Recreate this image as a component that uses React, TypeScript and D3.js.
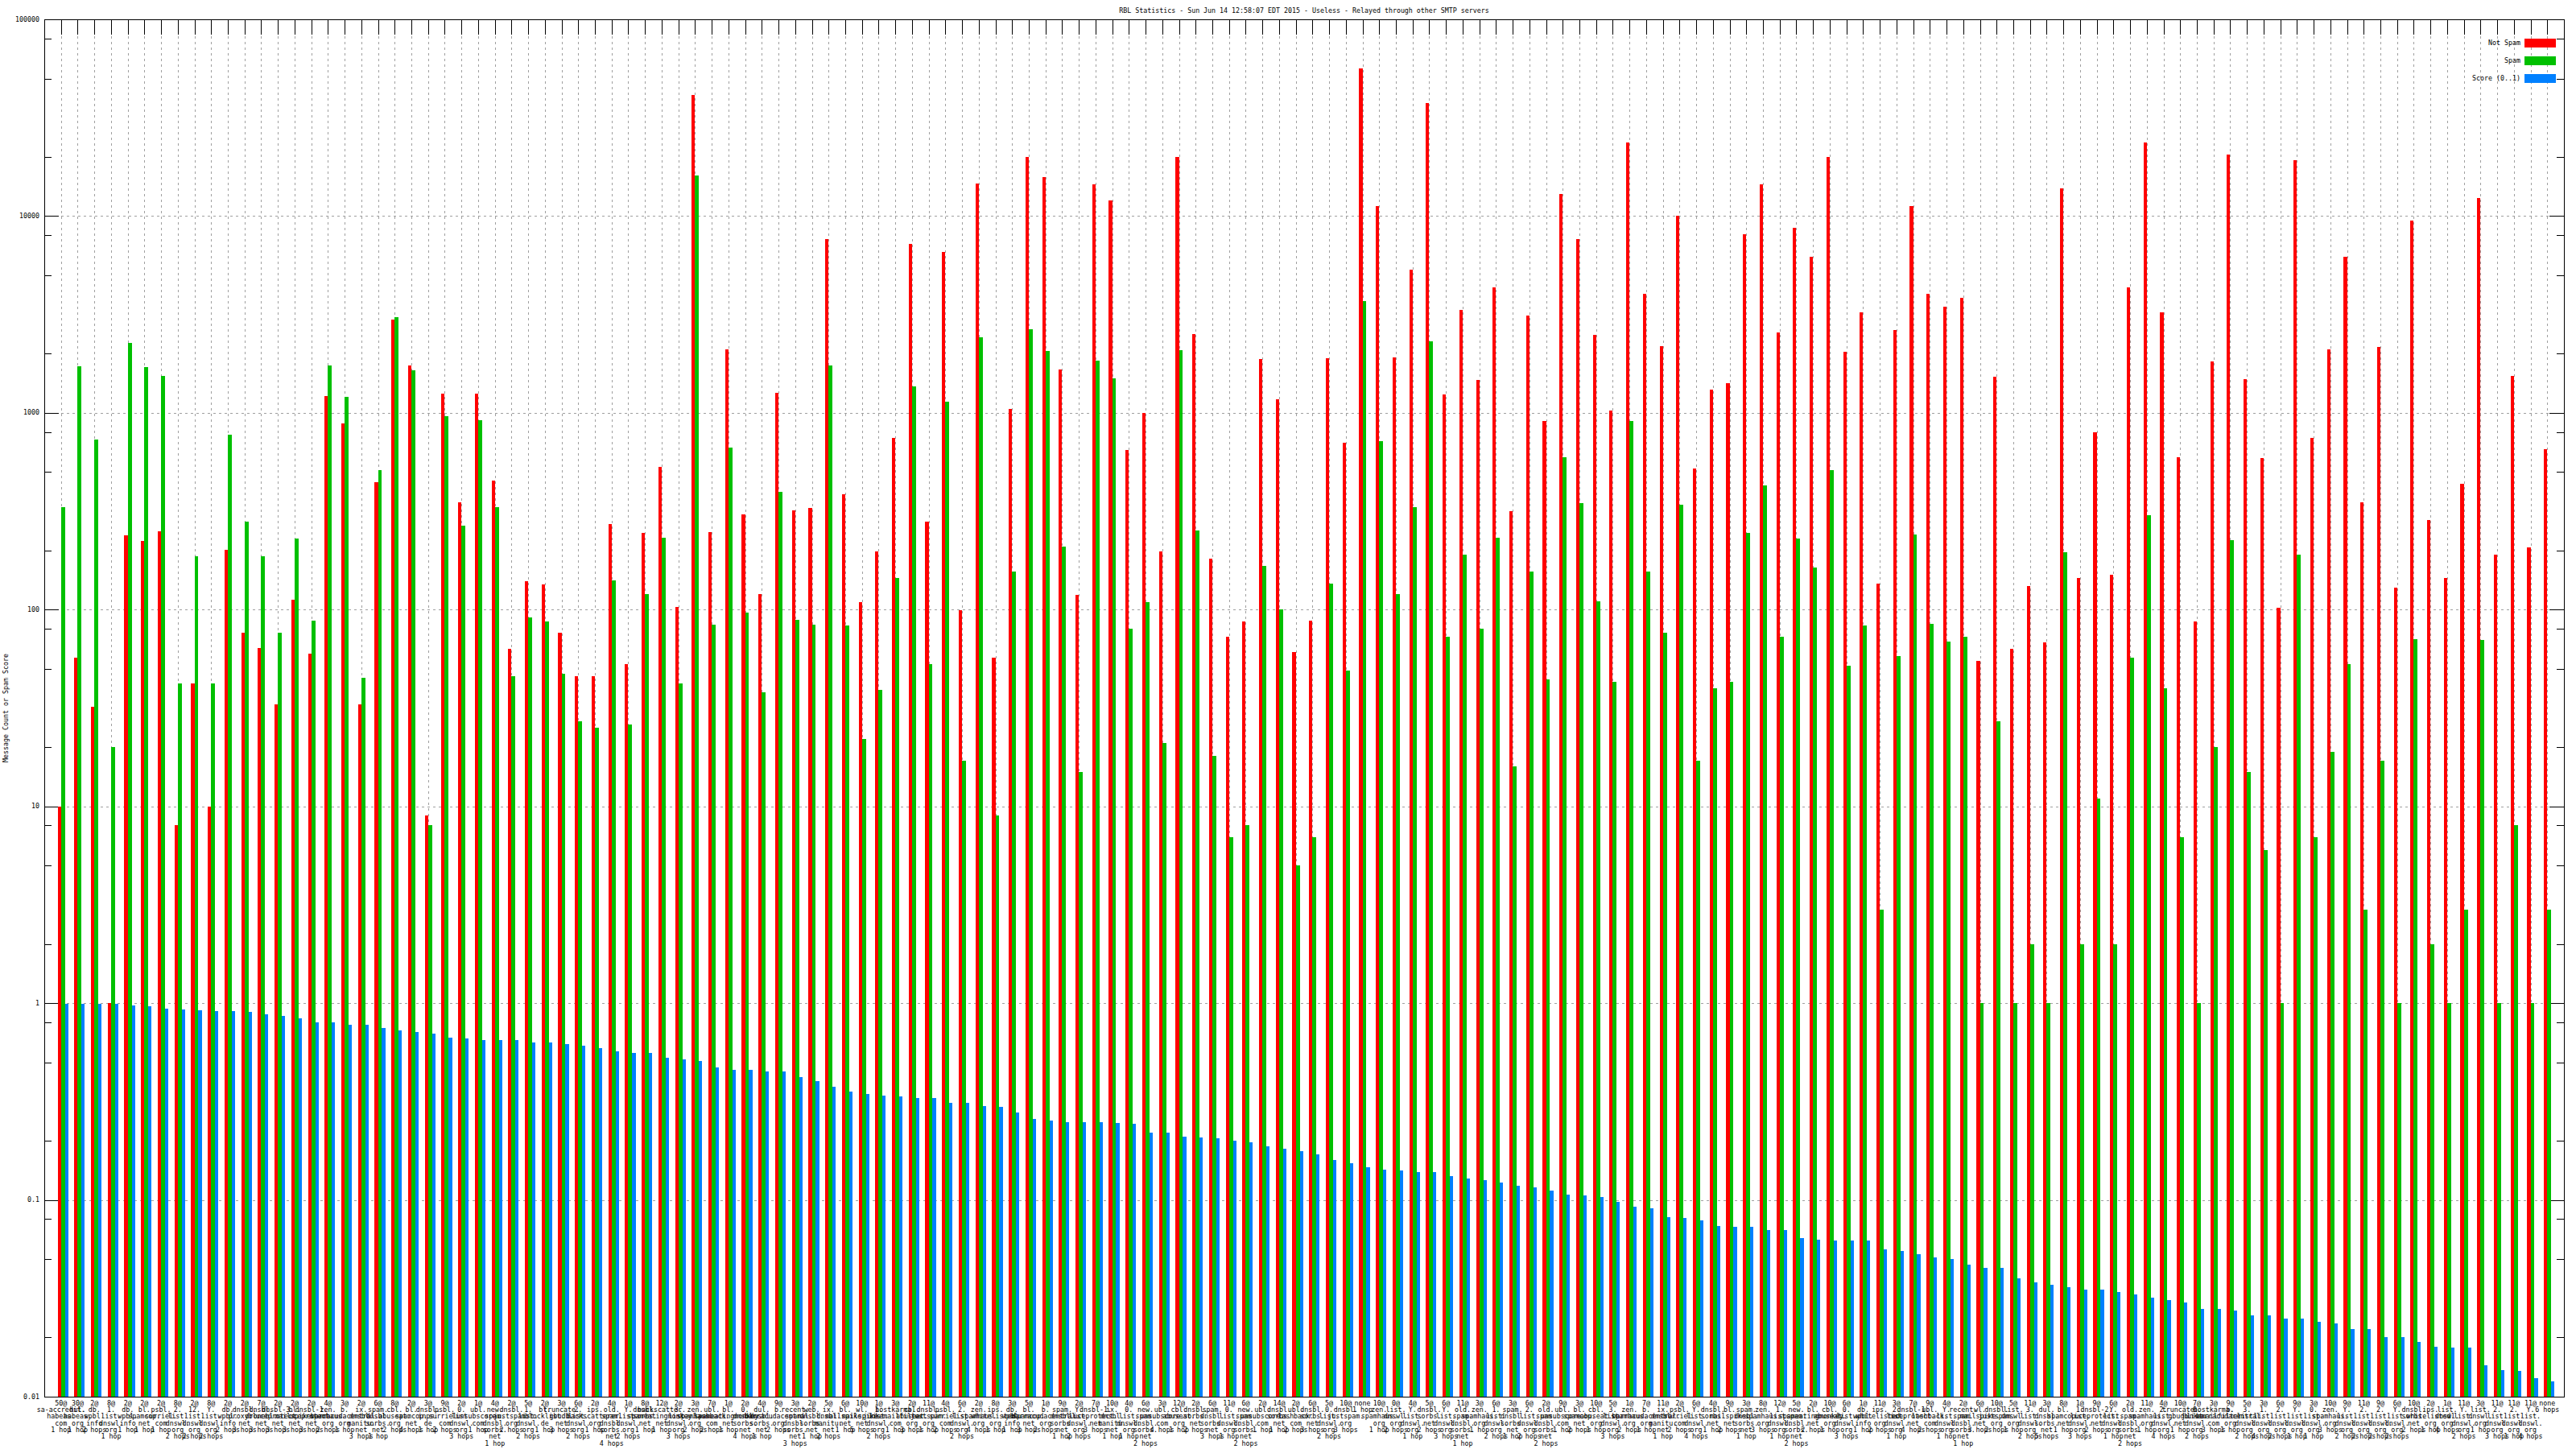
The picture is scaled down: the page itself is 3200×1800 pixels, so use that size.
import * as d3 from "d3"

// RBL statistics: per-list counts of not-spam / spam messages and a spam score (log scale)

const notSpam = [
  10, 57, 32, 1, 238, 224, 250, 8, 42, 10,
  202, 76, 64, 33, 112, 60, 1217, 883, 33, 443,
  2990, 1746, 9, 1256, 352, 1256, 452, 63, 139, 134,
  76, 46, 46, 272, 53, 245, 532, 103, 41100, 248,
  2100, 305, 120, 1268, 318, 328, 7640, 386, 109, 198,
  748, 7190, 281, 6550, 99, 14650, 57, 1042, 20000, 15750,
  1660, 119, 14500, 12050, 648, 1000, 198, 20000, 2505, 182,
  73, 87, 1880, 1167, 61, 88, 1897, 705, 56100, 11200,
  1917, 5320, 37500, 1242, 3350, 1466, 4330, 315, 3110, 912,
  12900, 7640, 2480, 1031, 23600, 4030, 2190, 10000, 521, 1308,
  1420, 8050, 14500, 2560, 8740, 6220, 20000, 2040, 3240, 135,
  2640, 11200, 4030, 3450, 3830, 55, 1528, 63, 132, 68,
  13800, 145, 797, 150, 4330, 23600, 3240, 597, 87, 1820,
  20600, 1480, 590, 102, 19150, 748, 2100, 6220, 352, 2170,
  129, 9500, 286, 145, 437, 12400, 190, 1540, 208, 655,
]

const spam = [
  331, 1730, 733, 20, 2260, 1710, 1540, 42, 186, 42,
  773, 281, 186, 76, 229, 88, 1746, 1205, 45, 511,
  3050, 1640, 8, 960, 267, 920, 331, 46, 91, 87,
  47, 27, 25, 141, 26, 120, 231, 42, 16070, 84,
  668, 97, 38, 395, 89, 84, 1746, 83, 22, 39,
  145, 1364, 53, 1143, 17, 2430, 9, 156, 2670, 2060,
  210, 15, 1840, 1500, 80, 109, 21, 2080, 253, 18,
  7, 8, 166, 100, 5, 7, 136, 49, 3710, 719,
  120, 331, 2310, 73, 190, 80, 231, 16, 156, 44,
  597, 349, 110, 43, 912, 156, 76, 342, 17, 40,
  43, 245, 429, 73, 229, 163, 511, 52, 83, 3,
  58, 240, 85, 69, 73, 1, 27, 1, 2, 1,
  195, 2, 11, 2, 57, 302, 40, 7, 1, 20,
  226, 15, 6, 1, 190, 7, 19, 53, 3, 17,
  1, 71, 2, 1, 3, 70, 1, 8, 1, 3,
]

const score = [
  0.99, 0.99, 0.99, 0.99, 0.97, 0.96, 0.94, 0.93, 0.92, 0.91,
  0.91, 0.9, 0.88, 0.86, 0.84, 0.8, 0.8, 0.78, 0.78, 0.75,
  0.73, 0.71, 0.7, 0.67, 0.66, 0.65, 0.65, 0.65, 0.63, 0.63,
  0.62, 0.61, 0.59, 0.57, 0.56, 0.56, 0.53, 0.52, 0.51, 0.47,
  0.46, 0.46, 0.45, 0.45, 0.42, 0.4, 0.375, 0.356, 0.345, 0.34,
  0.335, 0.33, 0.33, 0.31, 0.31, 0.3, 0.296, 0.278, 0.258, 0.253,
  0.248, 0.248, 0.248, 0.246, 0.243, 0.22, 0.22, 0.21, 0.208, 0.206,
  0.2, 0.196, 0.188, 0.182, 0.177, 0.171, 0.16, 0.154, 0.147, 0.142,
  0.141, 0.139, 0.138, 0.132, 0.128, 0.126, 0.122, 0.118, 0.116, 0.112,
  0.106, 0.105, 0.103, 0.098, 0.092, 0.091, 0.082, 0.081, 0.079, 0.074,
  0.073, 0.073, 0.07, 0.07, 0.064, 0.063, 0.062, 0.062, 0.062, 0.056,
  0.055, 0.053, 0.051, 0.05, 0.047, 0.045, 0.045, 0.04, 0.038, 0.037,
  0.036, 0.035, 0.035, 0.034, 0.033, 0.032, 0.031, 0.03, 0.028, 0.028,
  0.0275, 0.026, 0.026, 0.025, 0.025, 0.024, 0.0235, 0.022, 0.022, 0.02,
  0.02, 0.019, 0.018, 0.0177, 0.0177, 0.0145, 0.0137, 0.0135, 0.0124, 0.012,
]

// x tick labels: "<count>@", the list host (one line per dot), hop count
const labelCounts = (
  "50@ 30@ 2@ 8@ 2@ 2@ 2@ 8@ 2@ 8@ 2@ 2@ 7@ 2@ 2@ 2@ " +
  "4@ 3@ 2@ 6@ 8@ 2@ 3@ 9@ 2@ 1@ 4@ 2@ 5@ 2@ 3@ 6@ 2@ 4@ 1@ 8@ 12@ 2@ 3@ 7@ 1@ 2@ 4@ 9@ 3@ 2@ " +
  "5@ 6@ 10@ 1@ 3@ 2@ 11@ 4@ 6@ 2@ 8@ 3@ 5@ 1@ 9@ 2@ 7@ 10@ 4@ 6@ 3@ 12@ 2@ " +
  "6@ 11@ 6@ 2@ 14@ 2@ 6@ 5@ 10@ none 10@ 0@ 4@ 5@ 6@ 11@ 3@ 6@ 3@ 6@ 2@ " +
  "9@ 3@ 10@ 5@ 1@ 7@ 11@ 2@ 6@ 4@ 9@ 3@ 8@ 12@ 5@ 2@ 10@ 6@ 1@ 11@ 3@ 7@ 9@ 4@ 2@ 6@ 10@ 5@ 11@ 3@ " +
  "8@ 1@ 9@ 6@ 2@ 11@ 4@ 10@ 7@ 3@ 9@ 5@ " +
  "3@ 6@ 9@ 3@ 10@ 9@ 11@ 9@ 6@ 10@ 2@ 1@ 11@ 3@ 11@ 11@ 11@ none"
).split(" ")

const labelHosts = [
  "sa-accredit.habeas.com", "hul.habeas.org", "db.wpbl.info", "1.list.dnswl.org", "db.wpbl.info",
  "bl.spamcop.net", "psbl.surriel.com", "2.list.dnswl.org", "12.list.dnswl.org", "Y.list.dnswl.org",
  "db.wpbl.info", "dnsbl.proxybl.net", "dnsbl.dronebl.net", "dnsbl-3.uceprotect.net", "bl.mailspike.net",
  "dnsbl-1.uceprotect.net", "zen.spamhaus.org", "b.barracudacentral.org", "ix.dnsbl.manitu.net", "spam.dnsbl.sorbs.net",
  "cbl.abuseat.org", "bl.spamcop.net", "dnsbl.inps.de", "psbl.surriel.com", "0.list.dnswl.org",
  "ubl.unsubscore.com", "new.spam.dnsbl.sorbs.net", "dnsbl.justspam.org", "1.list.dnswl.org", "bl.blocklist.de",
  "truncate.gbudb.net", "2.list.dnswl.org", "ips.backscatterer.org", "old.spam.dnsbl.sorbs.net", "Y.list.dnswl.org",
  "dnsbl.sorbs.net", "backscatter.spameatingmonkey.net", "3.list.dnswl.org", "zen.spamhaus.org", "ubl.lashback.com",
  "bl.spameatingmonkey.net", "0.dnsbl.sorbs.net", "dul.dnsbl.sorbs.net", "b.barracudacentral.org", "recent.spam.dnsbl.sorbs.net",
  "web.dnsbl.sorbs.net", "ix.dnsbl.manitu.net", "bl.mailspike.net", "wl.mailspike.net", "1.list.dnswl.org",
  "hostkarma.junkemailfilter.com", "cbl.abuseat.org", "dnsbl.justspam.org", "psbl.surriel.com", "2.list.dnswl.org",
  "zen.spamhaus.org", "ips.whitelisted.org", "db.wpbl.info", "bl.spamcop.net", "b.barracudacentral.org",
  "spam.dnsbl.sorbs.net", "Y.list.dnswl.org", "dnsbl-1.uceprotect.net", "ix.dnsbl.manitu.net", "0.list.dnswl.org",
  "new.spam.dnsbl.sorbs.net", "ubl.unsubscore.com", "cbl.abuseat.org", "dnsbl.sorbs.net", "spam.dnsbl.sorbs.net",
  "0.list.dnswl.org", "new.spam.dnsbl.sorbs.net", "ubl.unsubscore.com", "dnsbl.sorbs.net", "ubl.lashback.com",
  "dnsbl.sorbs.net", "0.list.dnswl.org", "dnsbl.justspam.org", "", "zen.spamhaus.org",
  "list.dnswl.org", "Y.list.dnswl.org", "dnsbl.sorbs.net", "Y.list.dnswl.org", "old.spam.dnsbl.sorbs.net",
  "zen.spamhaus.org", "1.list.dnswl.org", "spam.dnsbl.sorbs.net", "2.list.dnswl.org", "old.spam.dnsbl.sorbs.net",
  "ubl.unsubscore.com", "bl.spamcop.net", "cbl.abuseat.org", "3.list.dnswl.org", "zen.spamhaus.org",
  "b.barracudacentral.org", "ix.dnsbl.manitu.net", "psbl.surriel.com", "Y.list.dnswl.org", "dnsbl.sorbs.net",
  "bl.mailspike.net", "spam.dnsbl.sorbs.net", "zen.spamhaus.org", "1.list.dnswl.org", "new.spam.dnsbl.sorbs.net",
  "bl.spameatingmonkey.net", "cbl.abuseat.org", "0.list.dnswl.org", "db.wpbl.info", "ips.whitelisted.org",
  "2.list.dnswl.org", "dnsbl-1.uceprotect.net", "ubl.lashback.com", "Y.list.dnswl.org", "recent.spam.dnsbl.sorbs.net",
  "wl.mailspike.net", "dnsbl.justspam.org", "list.dnswl.org", "3.list.dnswl.org", "dul.dnsbl.sorbs.net",
  "bl.spamcop.net", "1.list.dnswl.org", "dnsbl-2.uceprotect.net", "Y.list.dnswl.org", "old.spam.dnsbl.sorbs.net",
  "zen.spamhaus.org", "2.list.dnswl.org", "truncate.gbudb.net", "0.list.dnswl.org", "hostkarma.junkemailfilter.com",
  "b.barracudacentral.org", "3.list.dnswl.org", "1.list.dnswl.org", "2.list.dnswl.org", "Y.list.dnswl.org",
  "0.list.dnswl.org", "zen.spamhaus.org", "Y.list.dnswl.org", "2.list.dnswl.org", "2.list.dnswl.org",
  "Y.list.dnswl.org", "dnsbl.sorbs.net", "ips.whitelisted.org", "list.dnswl.org", "Y.list.dnswl.org",
  "list.dnswl.org", "2.list.dnswl.org", "2.list.dnswl.org", "Y.list.dnswl.org", "",
]

const labelHops = [
  1, 1, 2, 1, 1, 1, 1, 2, 2, 2, 2, 3, 3, 3, 3, 3,
  2, 1, 3, 1, 2, 4, 1, 2, 3, 1, 1, 2, 2, 1, 3, 2, 1, 4, 2, 1,
  1, 3, 2, 2, 1, 4, 1, 2, 3, 1, 2, 1, 5, 2, 1, 3, 1, 2, 2, 4,
  1, 1, 3, 2, 1, 2, 3, 1, 1, 2, 4, 1, 2,
  3, 1, 2, 1, 1, 2, 3, 2, 3, 1, 1, 2, 1, 2, 3, 1, 1, 2, 1, 2, 2,
  1, 2, 1, 3, 2, 1, 1, 2, 4, 1, 2, 1, 3, 1, 2, 2, 1, 3, 1, 2,
  1, 4, 2, 1, 1, 3, 2, 1, 2, 5, 1, 3, 2, 1, 2, 1, 4, 1, 2, 3, 1, 2,
  4, 2, 1, 1, 3, 2, 2, 2, 2, 2, 1, 4, 2, 1, 3, 1, 4, 6,
]

const yMajors = [0.01, 0.1, 1, 10, 100, 1000, 10000, 100000]
const yMajorLabels = ["0.01", "0.1", "1", "10", "100", "1000", "10000", "100000"]
const minorSteps = [2, 5, 8]

const seriesNames = ["Not Spam", "Spam", "Score (0..1)"]
const colors = ["#ff0000", "#00c000", "#0080ff"]

const W = 3200
const H = 1800
const font = "'DejaVu Sans Mono', monospace"
const fs = 8.3

export default function App() {
  const n = notSpam.length
  const left = 55, right = 3185, top = 24, bottom = 1735

  const x = d3.scaleLinear().domain([-1, n]).range([left, right])
  const y = d3.scaleLog().domain([0.01, 100000]).range([bottom, top])

  const idx = d3.range(n)
  const minors = yMajors.slice(0, -1).flatMap((m) => minorSteps.map((s) => m * s))

  // bar slots relative to the tick (gnuplot-ish offsets in x units)
  const slots = [
    [-0.2, 0],
    [0, 0.235],
    [0.235, 0.435],
  ]
  const series = [notSpam, spam, score]

  const hopsText = (h: number) => (h === 1 ? "1 hop" : `${h} hops`)

  return (
    <svg
      width={W}
      height={H}
      style={{ position: "absolute", left: 0, top: 0, display: "block", background: "#fff" }}
      fontFamily={font}
      fontSize={fs}
    >
      <rect width={W} height={H} fill="#fff" />

      {/* grid */}
      <g stroke="#a0a0a0" strokeWidth={1} strokeDasharray="3,4" shapeRendering="crispEdges">
        {idx.map((i) => (
          <line key={"gx" + i} x1={Math.round(x(i)) + 0.5} x2={Math.round(x(i)) + 0.5} y1={top} y2={bottom} />
        ))}
        {yMajors.slice(1, -1).map((v) => (
          <line key={"gy" + v} x1={left} x2={right} y1={Math.round(y(v)) + 0.5} y2={Math.round(y(v)) + 0.5} />
        ))}
      </g>

      {/* ticks */}
      <g stroke="#000" strokeWidth={1} shapeRendering="crispEdges">
        {yMajors.map((v) => {
          const yy = Math.round(y(v)) + 0.5
          return (
            <g key={"ym" + v}>
              <line x1={left} x2={left + 18} y1={yy} y2={yy} />
              <line x1={right} x2={right - 18} y1={yy} y2={yy} />
            </g>
          )
        })}
        {minors.map((v) => {
          const yy = Math.round(y(v)) + 0.5
          return (
            <g key={"yn" + v}>
              <line x1={left} x2={left + 9} y1={yy} y2={yy} />
              <line x1={right} x2={right - 9} y1={yy} y2={yy} />
            </g>
          )
        })}
        {idx.map((i) => {
          const xx = Math.round(x(i)) + 0.5
          return (
            <g key={"xt" + i}>
              <line x1={xx} x2={xx} y1={top} y2={top + 19} />
              <line x1={xx} x2={xx} y1={bottom} y2={bottom - 19} />
            </g>
          )
        })}
      </g>

      {/* bars */}
      <g shapeRendering="crispEdges">
        {series.map((vals, s) =>
          vals.map((v, i) => {
            const x0 = x(i + slots[s][0])
            const x1 = x(i + slots[s][1])
            const yy = y(v)
            return (
              <rect
                key={s + "-" + i}
                x={x0}
                y={yy}
                width={x1 - x0}
                height={bottom - yy}
                fill={colors[s]}
              />
            )
          }),
        )}
      </g>

      {/* frame */}
      <rect
        x={left + 0.5}
        y={top + 0.5}
        width={right - left}
        height={bottom - top}
        fill="none"
        stroke="#000"
        strokeWidth={1}
        shapeRendering="crispEdges"
      />

      {/* y tick labels */}
      {yMajors.map((v, k) => (
        <text key={"yl" + v} x={49} y={y(v)} textAnchor="end" dominantBaseline="middle" fill="#000">
          {yMajorLabels[k]}
        </text>
      ))}

      {/* x tick labels */}
      {idx.map((i) => {
        const host = labelHosts[i] || ""
        const parts = host ? host.split(/(?<=\.)/) : []
        const lines = [labelCounts[i] || "", ...parts, hopsText(labelHops[i] || 1)]
        return (
          <text key={"xl" + i} x={x(i)} textAnchor="middle" fill="#000">
            {lines.map((t, k) => (
              <tspan key={k} x={x(i)} y={1743 + k * 8.35} dominantBaseline="middle">
                {t}
              </tspan>
            ))}
          </text>
        )
      })}

      {/* title */}
      <text x={(left + right) / 2} y={13} textAnchor="middle" dominantBaseline="middle" fill="#000">
        RBL Statistics - Sun Jun 14 12:58:07 EDT 2015 - Useless - Relayed through other SMTP servers
      </text>

      {/* y axis title */}
      <text
        transform={`translate(7, ${(top + bottom) / 2}) rotate(-90)`}
        textAnchor="middle"
        dominantBaseline="middle"
        fill="#000"
      >
        Message Count or Spam Score
      </text>

      {/* legend */}
      {seriesNames.map((name, k) => {
        const ry = 53 + k * 22
        return (
          <g key={name}>
            <text x={3131} y={ry} textAnchor="end" dominantBaseline="middle" fill="#000">
              {name}
            </text>
            <rect x={3136} y={ry - 5.5} width={39} height={11} fill={colors[k]} shapeRendering="crispEdges" />
          </g>
        )
      })}
    </svg>
  )
}
